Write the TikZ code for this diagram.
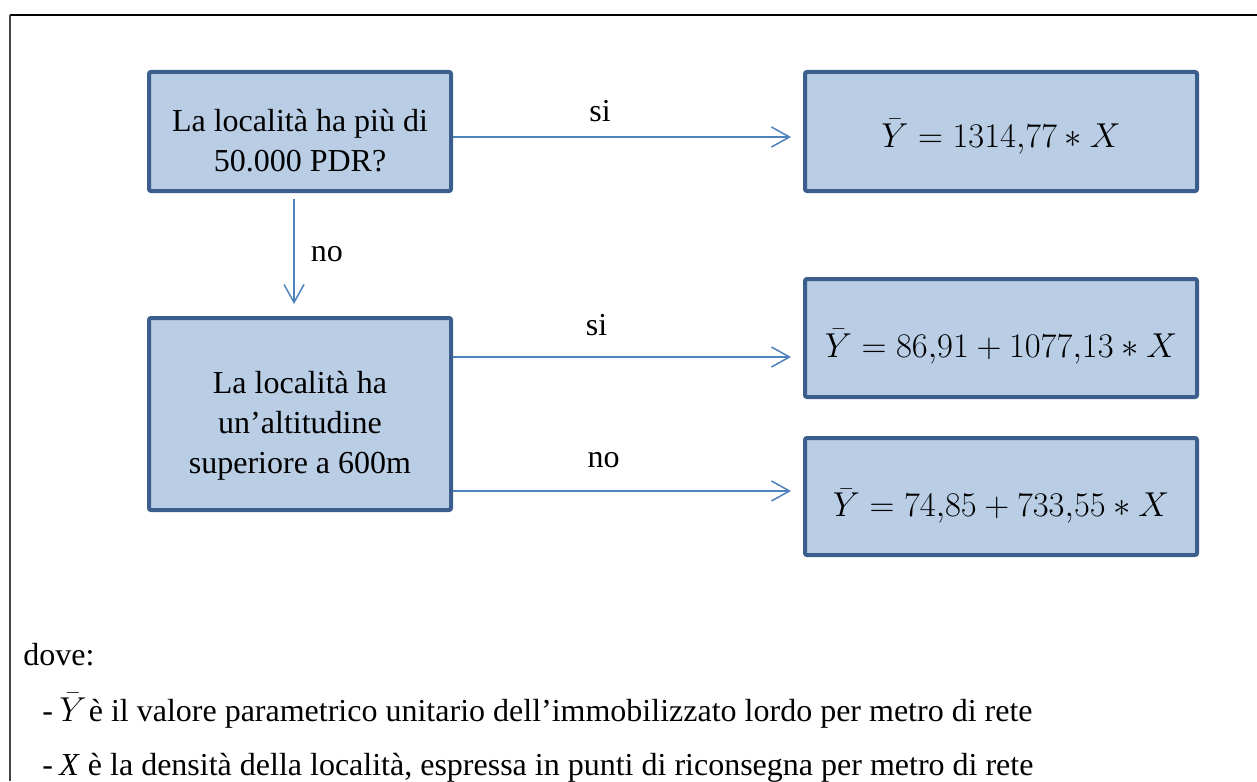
\documentclass[tikz,border=0pt]{standalone}
\usepackage[no-math]{fontspec}
\setmainfont{Liberation Serif}
\usepackage{tikz}
\usetikzlibrary{arrows.meta}

\definecolor{boxline}{RGB}{59,94,140}
\definecolor{boxfill}{RGB}{185,205,229}
\definecolor{arrowblue}{RGB}{79,129,189}
\definecolor{framegray}{RGB}{70,70,70}

\begin{document}
\begin{tikzpicture}[x=0.5pt,y=-0.5pt,>={Straight Barb[length=9pt,width=10pt]},auto,
        font=\fontsize{16}{20}\selectfont,
        box/.style={draw=boxline,fill=boxfill,line width=2pt,rounded corners=1pt,
          align=center,inner sep=0pt,minimum width=151pt,minimum height=59.5pt},
        eqbox/.style={box,minimum width=196pt},
        link/.style={->,draw=arrowblue,line width=0.75pt,shorten >=6pt},
        lbl/.style={inner sep=#1}]

  \useasboundingbox (0,0) rectangle (1257,781);

  % frame
  \draw[line width=1pt] (10,15) -- (1257,15);
  \draw[framegray,line width=0.75pt] (10,15) -- (10,781);

  \node[box] (q1) at (300,131.5) {\rule{0pt}{20.5pt}La località ha più di\\50.000 PDR?};
  \node[box,minimum height=96pt] (q2) [below of=q1,node distance=141.25pt]
    {\rule{0pt}{22.5pt}La località ha\\un’altitudine\\superiore a 600m};
  \node[eqbox,text height=18pt,text depth=2.1pt] (r1) [right of=q1,node distance=350.5pt]
    {$\bar{Y} = 1314{,}77 * X$};
  \node[eqbox,minimum height=59pt,text height=22pt,text depth=2.6pt] (r2)
    [right of=q2,node distance=350.5pt,yshift=38pt] {$\bar{Y} = 86{,}91 + 1077{,}13 * X$};
  \node[eqbox,minimum height=58.5pt,text height=23pt,text depth=2.6pt] (r3)
    [right of=q2,node distance=350.5pt,yshift=-41.25pt] {$\bar{Y} = 74{,}85 + 733{,}55 * X$};

  \coordinate (s0) at ([xshift=-3pt]q1.south);
  \coordinate (s1) at ([yshift=-2.75pt]q1.east);
  \coordinate (s2) at ([yshift=28.5pt]q2.east);
  \coordinate (s3) at ([yshift=-38.5pt]q2.east);

  \path (s1) edge[link] node[lbl=7pt,pos=.42] {si} (s1 -| r1.west)
        (s0) edge[link,shorten <=3pt] node[lbl=8pt] {no} (q2.north -| s0)
        (s2) edge[link] node[lbl=10pt,pos=.41] {si} (s2 -| r2.west)
        (s3) edge[link] node[lbl=11pt,pos=.43] {no} (s3 -| r3.west);

  \node[anchor=base west,inner sep=0pt] (dove) at (23,665) {dove:};
  \node[anchor=base west,inner sep=0pt] (def1) at (42,721)
    {\makebox[8.5pt][l]{-}$\bar{Y}\!$ è il valore parametrico unitario dell’immobilizzato lordo per metro di rete};
  \node[anchor=base west,inner sep=0pt] (def2) at (42,775)
    {\makebox[8.5pt][l]{-}\textit{X} è la densità della località, espressa in punti di riconsegna per metro di rete};

\end{tikzpicture}
\end{document}
